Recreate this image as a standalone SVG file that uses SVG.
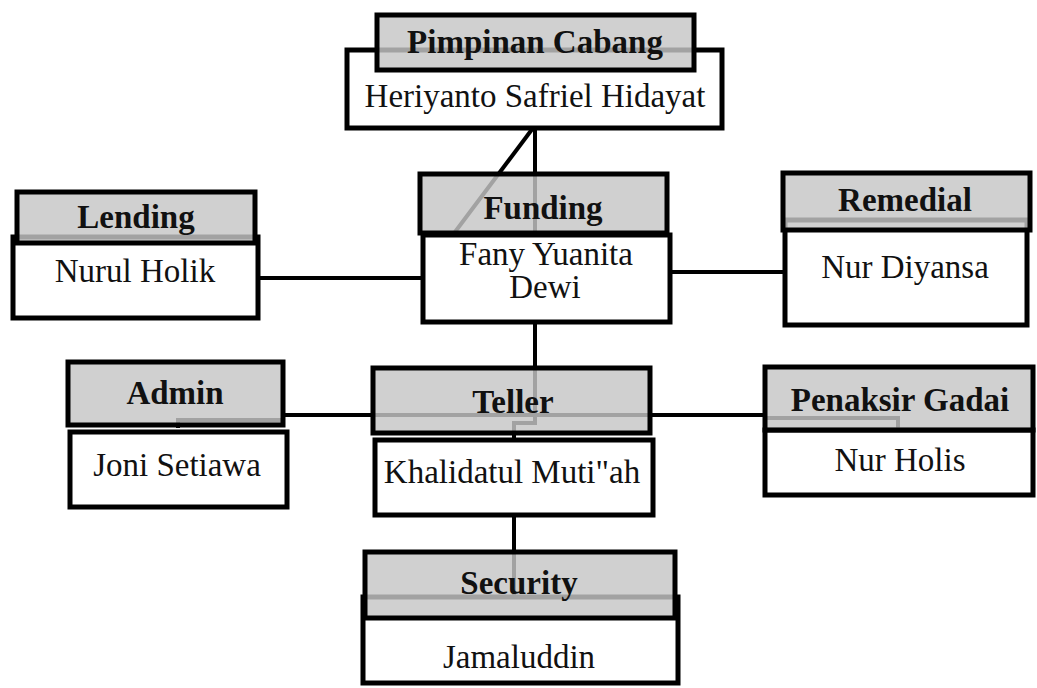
<svg xmlns="http://www.w3.org/2000/svg" width="1037" height="688" viewBox="0 0 1037 688">
<style>
.body{fill:#fff;stroke:#000;stroke-width:5}
.head{fill:#c6c6c6;fill-opacity:0.82;stroke:#000;stroke-width:5}
.ln{fill:none;stroke:#000;stroke-width:4}
.t{font-family:"Liberation Serif","DejaVu Serif",serif;font-size:33px;fill:#111;text-anchor:middle}
.b{font-weight:bold;font-size:33px}
</style>
<rect width="1037" height="688" fill="#fff"/>
<g id="connectors">
<path class="ln" d="M535,128 V423 H514 V440"/>
<path class="ln" d="M533,128 L455,232"/>
<path class="ln" d="M258,278 H423"/>
<path class="ln" d="M670,272 H785"/>
<path class="ln" d="M178,428 V420 H283 M283,415 H373 V415 H650 H765"/>
<path class="ln" d="M765,418 H898 V430"/>
<path class="ln" d="M514,515 V597"/>
</g>
<g id="pimpinan">
<rect class="body" x="347" y="50" width="375" height="78"/>
<rect class="head" x="377" y="15" width="317" height="55"/>
<text class="t b" x="535" y="53">Pimpinan Cabang</text>
<text class="t" x="535" y="107">Heriyanto Safriel Hidayat</text>
</g>
<g id="funding">
<rect class="body" x="423" y="235" width="247" height="87"/>
<rect class="head" x="420" y="174" width="247" height="59"/>
<text class="t b" x="543" y="219">Funding</text>
<text class="t" x="546" y="265">Fany Yuanita</text>
<text class="t" x="545" y="298">Dewi</text>
</g>
<g id="lending">
<rect class="body" x="13" y="237" width="245" height="81"/>
<rect class="head" x="17" y="192" width="238" height="51"/>
<text class="t b" x="136" y="228">Lending</text>
<text class="t" x="135" y="282">Nurul Holik</text>
</g>
<g id="remedial">
<rect class="body" x="785" y="220" width="242" height="105"/>
<rect class="head" x="783" y="173" width="247" height="57"/>
<text class="t b" x="905" y="211">Remedial</text>
<text class="t" x="905" y="278">Nur Diyansa</text>
</g>
<g id="admin">
<rect class="body" x="70" y="432" width="217" height="75"/>
<rect class="head" x="68" y="362" width="215" height="63"/>
<text class="t b" x="175" y="404">Admin</text>
<text class="t" x="177" y="476">Joni Setiawa</text>
</g>
<g id="teller">
<rect class="body" x="375" y="440" width="278" height="75"/>
<rect class="head" x="373" y="368" width="277" height="65"/>
<text class="t b" x="513" y="413">Teller</text>
<text class="t" x="512" y="483">Khalidatul Muti"ah</text>
</g>
<g id="penaksir">
<rect class="body" x="765" y="430" width="268" height="65"/>
<rect class="head" x="765" y="367" width="268" height="63"/>
<text class="t b" x="900" y="411">Penaksir Gadai</text>
<text class="t" x="900" y="471">Nur Holis</text>
</g>
<g id="security">
<rect class="body" x="363" y="597" width="315" height="86"/>
<rect class="head" x="365" y="552" width="310" height="66"/>
<text class="t b" x="519" y="594">Security</text>
<text class="t" x="519" y="668">Jamaluddin</text>
</g>
</svg>
